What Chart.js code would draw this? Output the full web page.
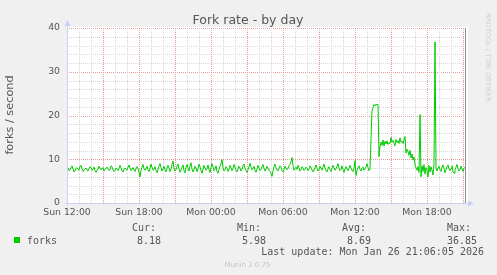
<!DOCTYPE html>
<html>
<head>
<meta charset="utf-8">
<script src="https://cdn.jsdelivr.net/npm/chart.js@4/dist/chart.umd.min.js"></script>
<style>
html, body { margin: 0; padding: 0; background: #f0f0f0; overflow: hidden; }
#wrap { width: 497px; height: 275px; }
</style>
</head>
<body>
<div id="wrap"><canvas id="c" width="497" height="275"></canvas></div>
<script>
// forks per second, one sample every 5 minutes from Sun 12:00
const forks = [
  8.3, 8.0, 7.4, 7.6, 8.2, 8.5, 7.8, 7.1, 7.3, 7.9, 8.1, 7.7, 7.5, 8.4, 8.6, 7.9, 7.2, 7.4, 7.8, 8.0,
  7.6, 7.3, 7.9, 8.3, 8.1, 7.5, 7.7, 8.2, 7.4, 7.0, 7.5, 7.8, 8.4, 8.0, 7.6, 7.8, 8.1, 7.3, 7.6, 7.9,
  8.2, 7.8, 7.4, 7.7, 8.5, 8.3, 7.6, 7.2, 7.5, 8.0, 7.8, 7.4, 7.9, 8.6, 8.1, 7.3, 7.1, 7.6, 8.0, 7.7,
  7.5, 8.2, 8.7, 8.0, 7.4, 7.7, 8.1, 7.6, 7.2, 7.8, 8.3, 7.9, 7.0, 6.0, 7.4, 8.2, 8.8, 7.9, 7.5, 7.8,
  8.4, 7.6, 7.2, 7.9, 8.9, 8.2, 7.5, 7.7, 8.3, 7.4, 6.9, 7.6, 8.5, 9.0, 8.1, 7.3, 7.8, 8.4, 7.6, 7.1,
  7.9, 8.6, 8.0, 7.2, 7.7, 8.8, 9.6, 8.0, 7.3, 7.6, 8.4, 8.9, 7.8, 7.0, 7.5, 8.2, 8.7, 7.4, 6.9, 8.1,
  8.8, 7.9, 7.3, 8.5, 9.2, 7.8, 7.1, 7.6, 8.4, 8.0, 7.2, 7.8, 8.9, 8.3, 7.4, 6.8, 7.7, 8.6, 8.0, 7.5,
  7.9, 8.7, 7.6, 7.0, 8.2, 9.0, 8.3, 7.4, 7.8, 8.5, 7.2, 6.8, 7.7, 8.4, 8.9, 9.9, 8.1, 7.3, 7.6, 8.3,
  7.9, 7.2, 7.6, 8.6, 8.1, 7.4, 7.9, 8.8, 8.2, 7.5, 7.1, 7.8, 8.4, 8.0, 7.3, 7.7, 8.5, 8.9, 7.9, 7.4,
  7.0, 7.6, 8.3, 9.1, 8.2, 7.6, 7.9, 8.4, 7.5, 7.0, 7.8, 8.6, 8.0, 7.4, 7.7, 8.3, 8.8, 7.9, 7.3, 7.8,
  8.4, 8.0, 7.5, 7.2, 6.8, 6.1, 7.4, 8.3, 8.9, 8.1, 7.6, 7.3, 7.9, 8.5, 8.2, 7.4, 7.1, 7.7, 8.4, 8.0,
  7.6, 7.9, 8.5, 8.8, 9.4, 10.4, 8.6, 7.5, 7.8, 8.2, 7.7, 8.6, 8.1, 7.3, 7.6, 8.3, 8.0, 7.4, 7.7, 8.2,
  7.9, 7.4, 7.8, 8.5, 8.2, 7.6, 7.1, 7.5, 8.1, 8.7, 8.0, 7.3, 7.6, 8.4, 7.9, 7.5, 8.2, 8.9, 8.0, 7.4,
  7.1, 7.8, 8.3, 7.7, 7.2, 7.9, 8.6, 8.1, 7.5, 7.8, 8.4, 9.0, 8.0, 7.4, 7.7, 8.5, 7.6, 7.0, 7.8, 8.3,
  7.8, 7.4, 7.9, 8.6, 8.0, 7.5, 7.2, 7.9, 9.7, 6.3, 7.4, 8.1, 8.5, 7.7, 7.3, 7.9, 8.2, 7.5, 7.8, 8.3,
  9.0, 8.1, 7.4, 7.8, 14.5, 21.0, 21.8, 22.5, 22.2, 22.6, 22.4, 22.5, 10.6, 12.8, 13.9, 13.2, 14.4, 13.0, 14.1, 13.5,
  14.2, 13.4, 13.8, 13.6, 15.0, 13.9, 14.3, 13.7, 13.1, 14.5, 13.8, 14.2, 13.6, 14.9, 13.9, 14.1, 13.6, 14.4, 15.2, 11.4,
  12.3, 11.8, 10.9, 12.0, 10.3, 11.2, 9.8, 10.5, 8.9, 8.0, 7.5, 8.3, 7.0, 20.2, 6.0, 8.5, 7.2, 8.8, 6.6, 8.1,
  7.4, 6.0, 8.6, 7.1, 8.3, 7.5, 6.4, 9.0, 36.85, 8.0, 7.3, 7.9, 8.4, 7.6, 7.2, 8.2, 8.7, 7.9, 6.9, 7.6,
  8.3, 8.7, 7.8, 7.4, 7.9, 8.5, 7.1, 6.8, 7.6, 8.2, 8.8, 7.9, 7.3, 7.6, 8.4, 7.8, 7.2, 7.9, 8.18
];
const stepHours = 1 / 12;
const tickLabels = ['Sun 12:00', 'Sun 18:00', 'Mon 00:00', 'Mon 06:00', 'Mon 12:00', 'Mon 18:00'];
const labelEvery = 6;   // hours between labels
const majorEvery = 3;   // hours between red grid lines
const seriesName = 'forks';
const legendHeads = ['Cur:', 'Min:', 'Avg:', 'Max:'];
const legendValues = ['8.18', '5.98', '8.69', '36.85'];
const lastUpdate = 'Last update: Mon Jan 26 21:06:05 2026';

const GREEN = '#00cc00', AXIS = '#c9cff5', TXT = '#555';
const MINOR = '#d6d6d6', MAJOR = '#eb9a9a';

const points = forks.map((v, i) => ({ x: i * stepHours, y: v }));
const xMax = (forks.length - 1) * stepHours;

// dotted rrdtool-style grid, drawn from the scales' own ticks
function drawGrid(chart) {
  const c = chart.ctx, a = chart.chartArea, sx = chart.scales.x, sy = chart.scales.y;
  c.save();
  c.lineWidth = 1; c.setLineDash([1, 1]);
  sy.ticks.forEach(t => {
    if (t.value === 0) return;
    const y = Math.round(sy.getPixelForValue(t.value)) + 0.5;
    c.strokeStyle = t.value % 10 === 0 ? MAJOR : MINOR;
    c.beginPath(); c.moveTo(a.left, y); c.lineTo(a.right, y); c.stroke();
  });
  sx.ticks.forEach(t => {
    if (t.value === 0) return;
    const x = Math.round(sx.getPixelForValue(t.value)) + 0.5;
    c.strokeStyle = t.value % majorEvery === 0 ? MAJOR : MINOR;
    c.beginPath(); c.moveTo(x, a.top); c.lineTo(x, a.bottom); c.stroke();
  });
  c.restore();
}

const munin = {
  id: 'munin',
  beforeDraw(chart) {
    const c = chart.ctx, a = chart.chartArea;
    c.save();
    c.fillStyle = '#f0f0f0'; c.fillRect(0, 0, 497, 275);
    c.fillStyle = '#fff'; c.fillRect(a.left, a.top - 1, a.right - a.left + 3, a.bottom - a.top + 1);
    c.restore();
  },
  beforeDatasetsDraw(chart) { drawGrid(chart); },
  afterDraw(chart) {
    const c = chart.ctx, a = chart.chartArea;
    c.save();
    // end-of-data line
    c.strokeStyle = '#8a8a8a'; c.lineWidth = 1;
    c.beginPath(); c.moveTo(a.right + 0.5, a.top); c.lineTo(a.right + 0.5, a.bottom); c.stroke();
    // axes + arrows
    c.strokeStyle = AXIS; c.fillStyle = AXIS;
    c.beginPath(); c.moveTo(a.left + 0.5, a.bottom + 2); c.lineTo(a.left + 0.5, a.top - 4);
    c.moveTo(a.left - 2, a.bottom + 0.5); c.lineTo(a.right + 5, a.bottom + 0.5); c.stroke();
    c.beginPath(); c.moveTo(a.left + 0.5, a.top - 8); c.lineTo(a.left - 2.5, a.top - 2); c.lineTo(a.left + 3.5, a.top - 2); c.fill();
    c.beginPath(); c.moveTo(a.right + 9, a.bottom + 0.5); c.lineTo(a.right + 3, a.bottom - 2.5); c.lineTo(a.right + 3, a.bottom + 3.5); c.fill();

    // title
    c.fillStyle = TXT; c.textAlign = 'center'; c.textBaseline = 'alphabetic';
    c.font = '12.5px "DejaVu Sans"';
    c.fillText('Fork rate - by day', 248, 24);
    // y label
    c.save(); c.translate(10, 115); c.rotate(-Math.PI / 2);
    c.textBaseline = 'middle'; c.font = '11.3px "DejaVu Sans"';
    c.fillText('forks / second', 0, 0);
    c.restore();
    // watermark
    c.save(); c.translate(488, 13); c.rotate(Math.PI / 2);
    c.textAlign = 'left'; c.textBaseline = 'middle'; c.fillStyle = '#cfcfcf';
    c.font = '6.9px "DejaVu Sans"';
    c.fillText('RRDTOOL / TOBI OETIKER', 0, 0);
    c.restore();

    // legend
    c.font = '10px "DejaVu Sans Mono"'; c.textAlign = 'left'; c.fillStyle = TXT;
    const headX = [132, 237, 342, 447], valRight = [161, 266, 371, 477];
    legendHeads.forEach((h, i) => c.fillText(h, headX[i], 231));
    c.fillText(seriesName, 27, 243.7);
    c.textAlign = 'right';
    legendValues.forEach((v, i) => c.fillText(v, valRight[i], 243.7));
    c.fillText(lastUpdate, 484, 255.4);
    c.fillStyle = GREEN; c.fillRect(14, 237, 6, 6);
    // version
    c.textAlign = 'center'; c.fillStyle = '#c4c4c4'; c.font = '7px "DejaVu Sans"';
    c.fillText('Munin 2.0.75', 247.5, 266.5);
    c.restore();
  }
};

new Chart(document.getElementById('c'), {
  type: 'line',
  data: {
    datasets: [{
      label: seriesName, data: points, borderColor: GREEN, borderWidth: 1,
      pointRadius: 0, fill: false, tension: 0
    }]
  },
  options: {
    responsive: false, animation: false, devicePixelRatio: 1,
    layout: { padding: { left: 0, top: 28, right: 32, bottom: 0 } },
    plugins: { legend: { display: false }, tooltip: { enabled: false } },
    scales: {
      x: {
        type: 'linear', min: 0, max: xMax,
        afterFit: s => { s.height = 72; },
        ticks: {
          stepSize: 1, autoSkip: false, includeBounds: false, maxRotation: 0, padding: 4,
          color: TXT, font: { family: 'DejaVu Sans', size: 9.3 },
          callback: v => (v % labelEvery === 0 ? tickLabels[v / labelEvery] : '')
        },
        grid: { display: false, drawTicks: false },
        border: { display: false }
      },
      y: {
        min: 0, max: 40,
        afterFit: s => { s.width = 67; },
        ticks: {
          stepSize: 2, autoSkip: false, includeBounds: false, padding: 7,
          color: TXT, font: { family: 'DejaVu Sans', size: 9.3 },
          callback: v => (v % 10 === 0 ? v : '')
        },
        grid: { display: false, drawTicks: false },
        border: { display: false }
      }
    }
  },
  plugins: [munin]
});
</script>
</body>
</html>
